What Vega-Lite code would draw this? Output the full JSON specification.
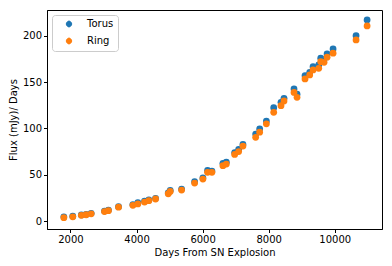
{
  "$schema": "https://vega.github.io/schema/vega-lite/v6.json",
  "width": 335,
  "height": 219,
  "autosize": {"type": "none"},
  "padding": {"left": 47, "top": 10, "right": 10, "bottom": 37},
  "background": "white",
  "config": {
    "font": "DejaVu Sans",
    "view": {"stroke": "#000000", "strokeWidth": 1},
    "axis": {
      "grid": false,
      "domainColor": "#000000",
      "tickColor": "#000000",
      "labelColor": "#000000",
      "titleColor": "#000000",
      "labelFont": "DejaVu Sans",
      "titleFont": "DejaVu Sans",
      "labelFontSize": 10,
      "titleFontSize": 10,
      "titleFontWeight": "normal",
      "tickSize": 3.5,
      "labelPadding": 2,
      "domainWidth": 1,
      "tickWidth": 1
    }
  },
  "data": {
    "values": [
      {"d": 1800, "f": 4.5, "s": "Torus"},
      {"d": 2070, "f": 5.2, "s": "Torus"},
      {"d": 2330, "f": 6.6, "s": "Torus"},
      {"d": 2475, "f": 7.2, "s": "Torus"},
      {"d": 2627, "f": 8.3, "s": "Torus"},
      {"d": 3030, "f": 10.8, "s": "Torus"},
      {"d": 3150, "f": 11.8, "s": "Torus"},
      {"d": 3455, "f": 15.5, "s": "Torus"},
      {"d": 3890, "f": 17.8, "s": "Torus"},
      {"d": 4040, "f": 20.0, "s": "Torus"},
      {"d": 4242, "f": 21.5, "s": "Torus"},
      {"d": 4373, "f": 22.8, "s": "Torus"},
      {"d": 4576, "f": 24.5, "s": "Torus"},
      {"d": 4960, "f": 30.5, "s": "Torus"},
      {"d": 5020, "f": 33.0, "s": "Torus"},
      {"d": 5364, "f": 34.5, "s": "Torus"},
      {"d": 5758, "f": 42.5, "s": "Torus"},
      {"d": 6009, "f": 46.5, "s": "Torus"},
      {"d": 6150, "f": 54.6, "s": "Torus"},
      {"d": 6282, "f": 54.0, "s": "Torus"},
      {"d": 6615, "f": 62.4, "s": "Torus"},
      {"d": 6718, "f": 63.5, "s": "Torus"},
      {"d": 6970, "f": 74.0, "s": "Torus"},
      {"d": 7091, "f": 77.5, "s": "Torus"},
      {"d": 7221, "f": 82.8, "s": "Torus"},
      {"d": 7606, "f": 94.0, "s": "Torus"},
      {"d": 7727, "f": 99.5, "s": "Torus"},
      {"d": 7930, "f": 108.0, "s": "Torus"},
      {"d": 8152, "f": 122.5, "s": "Torus"},
      {"d": 8373, "f": 128.3, "s": "Torus"},
      {"d": 8464, "f": 132.6, "s": "Torus"},
      {"d": 8767, "f": 142.7, "s": "Torus"},
      {"d": 8858, "f": 137.0, "s": "Torus"},
      {"d": 9100, "f": 157.0, "s": "Torus"},
      {"d": 9242, "f": 160.7, "s": "Torus"},
      {"d": 9343, "f": 166.8, "s": "Torus"},
      {"d": 9515, "f": 168.6, "s": "Torus"},
      {"d": 9576, "f": 175.9, "s": "Torus"},
      {"d": 9676, "f": 174.5, "s": "Torus"},
      {"d": 9767, "f": 180.5, "s": "Torus"},
      {"d": 9949, "f": 185.9, "s": "Torus"},
      {"d": 10645, "f": 200.3, "s": "Torus"},
      {"d": 10979, "f": 217.3, "s": "Torus"},
      {"d": 1800, "f": 3.6, "s": "Ring"},
      {"d": 2070, "f": 4.6, "s": "Ring"},
      {"d": 2330, "f": 6.2, "s": "Ring"},
      {"d": 2475, "f": 6.8, "s": "Ring"},
      {"d": 2627, "f": 7.8, "s": "Ring"},
      {"d": 3030, "f": 10.2, "s": "Ring"},
      {"d": 3150, "f": 11.2, "s": "Ring"},
      {"d": 3455, "f": 15.0, "s": "Ring"},
      {"d": 3890, "f": 17.0, "s": "Ring"},
      {"d": 4040, "f": 18.5, "s": "Ring"},
      {"d": 4242, "f": 20.5, "s": "Ring"},
      {"d": 4373, "f": 22.0, "s": "Ring"},
      {"d": 4576, "f": 23.8, "s": "Ring"},
      {"d": 4960, "f": 29.5, "s": "Ring"},
      {"d": 5020, "f": 32.0, "s": "Ring"},
      {"d": 5364, "f": 33.5, "s": "Ring"},
      {"d": 5758, "f": 41.0, "s": "Ring"},
      {"d": 6009, "f": 45.4, "s": "Ring"},
      {"d": 6150, "f": 52.6, "s": "Ring"},
      {"d": 6282, "f": 52.6, "s": "Ring"},
      {"d": 6615, "f": 59.8, "s": "Ring"},
      {"d": 6718, "f": 61.6, "s": "Ring"},
      {"d": 6970, "f": 72.0, "s": "Ring"},
      {"d": 7091, "f": 75.0, "s": "Ring"},
      {"d": 7221, "f": 81.0, "s": "Ring"},
      {"d": 7606, "f": 90.5, "s": "Ring"},
      {"d": 7727, "f": 96.0, "s": "Ring"},
      {"d": 7930, "f": 105.0, "s": "Ring"},
      {"d": 8152, "f": 117.5, "s": "Ring"},
      {"d": 8373, "f": 124.6, "s": "Ring"},
      {"d": 8464, "f": 129.7, "s": "Ring"},
      {"d": 8767, "f": 139.0, "s": "Ring"},
      {"d": 8858, "f": 133.7, "s": "Ring"},
      {"d": 9100, "f": 153.5, "s": "Ring"},
      {"d": 9242, "f": 157.8, "s": "Ring"},
      {"d": 9343, "f": 163.2, "s": "Ring"},
      {"d": 9515, "f": 165.0, "s": "Ring"},
      {"d": 9576, "f": 172.2, "s": "Ring"},
      {"d": 9676, "f": 171.5, "s": "Ring"},
      {"d": 9767, "f": 177.0, "s": "Ring"},
      {"d": 9949, "f": 181.3, "s": "Ring"},
      {"d": 10645, "f": 195.7, "s": "Ring"},
      {"d": 10979, "f": 210.8, "s": "Ring"}
    ]
  },
  "mark": {"type": "circle", "size": 46, "opacity": 1},
  "encoding": {
    "x": {
      "field": "d",
      "type": "quantitative",
      "scale": {"domain": [1290, 11430], "nice": false, "zero": false},
      "axis": {"values": [2000, 4000, 6000, 8000, 10000], "format": "d", "title": "Days From SN Explosion", "titlePadding": 3}
    },
    "y": {
      "field": "f",
      "type": "quantitative",
      "scale": {"domain": [-8.6, 228], "nice": false, "zero": false},
      "axis": {"values": [0, 50, 100, 150, 200], "format": "d", "title": "Flux (mJy)/ Days", "titlePadding": 4}
    },
    "color": {
      "field": "s",
      "type": "nominal",
      "scale": {"domain": ["Torus", "Ring"], "range": ["#1f77b4", "#ff7f0e"]},
      "legend": {
        "title": null,
        "orient": "none",
        "legendX": 5,
        "legendY": 5,
        "padding": 4,
        "rowPadding": 5,
        "symbolType": "M0,-1.1V1.1M-0.85,0A0.85,0.85,0,1,1,0.85,0A0.85,0.85,0,1,1,-0.85,0Z",
        "symbolSize": 40,
        "symbolOffset": 8,
        "labelOffset": 13,
        "labelFontSize": 10,
        "labelColor": "#000000",
        "strokeColor": "#cccccc",
        "fillColor": "rgba(255,255,255,0.8)",
        "cornerRadius": 3,
        "symbolStrokeWidth": 1,
        "symbolOpacity": 1,
        "encode": {
          "symbols": {
            "update": {
              "stroke": {"scale": "color", "field": "value"},
              "fill": {"scale": "color", "field": "value"}
            }
          }
        }
      }
    }
  }
}
